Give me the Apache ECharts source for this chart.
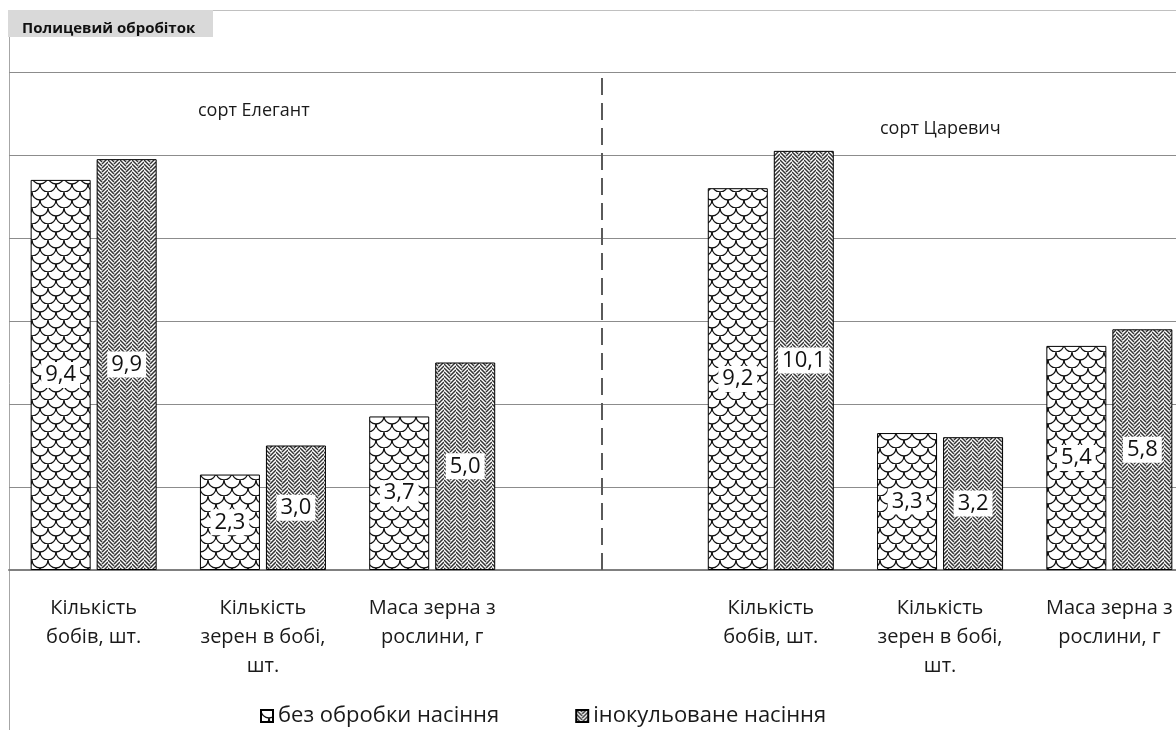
<!DOCTYPE html>
<html><head><meta charset="utf-8">
<script src="https://cdn.jsdelivr.net/npm/echarts@6/dist/echarts.min.js"></script>
<style>html,body{margin:0;padding:0;background:#fff}#c{width:1176px;height:730px}</style>
</head><body><div id="c"></div>
<script>
const categories = ['Кількість\nбобів, шт.', 'Кількість\nзерен в бобі,\nшт.', 'Маса зерна з\nрослини, г', '', 'Кількість\nбобів, шт.', 'Кількість\nзерен в бобі,\nшт.', 'Маса зерна з\nрослини, г'];
const seriesNames = ['без обробки насіння', 'інокульоване насіння'];
const noTreatment = [9.4, 2.3, 3.7, null, 9.2, 3.3, 5.4];
const inoculated = [9.9, 3.0, 5.0, null, 10.1, 3.2, 5.8];
const separatorCategory = 3;
const yTicks = [0, 2, 4, 6, 8, 10, 12];
const groupLabels = ['сорт Елегант', 'сорт Царевич'];
const panelTitle = 'Полицевий обробіток';

function scalesPattern() {
  const c = document.createElement('canvas'); c.width = 16; c.height = 16;
  const g = c.getContext('2d');
  g.fillStyle = '#fff'; g.fillRect(0, 0, 16, 16);
  g.strokeStyle = '#111'; g.lineWidth = 1.3;
  g.beginPath(); g.arc(8, 0, 8, 0, Math.PI); g.stroke();
  g.beginPath(); g.arc(0, 8, 8, 0, Math.PI / 2); g.stroke();
  g.beginPath(); g.arc(16, 8, 8, Math.PI / 2, Math.PI); g.stroke();
  return c;
}
function herringPattern() {
  const c = document.createElement('canvas'); c.width = 12; c.height = 12;
  const g = c.getContext('2d');
  g.fillStyle = '#fff'; g.fillRect(0, 0, 12, 12);
  g.strokeStyle = '#333'; g.lineWidth = 1.5;
  for (let y = -12; y <= 24; y += 4) {
    g.beginPath(); g.moveTo(0, y); g.lineTo(6, y + 6); g.stroke();
    g.beginPath(); g.moveTo(6, y + 8); g.lineTo(12, y + 2); g.stroke();
  }
  return c;
}
const fmt = p => (p.value == null ? '' : p.value.toFixed(1).replace('.', ','));
const font = 'Open Sans, Noto Sans, sans-serif';
const labelCfg = {
  show: true, position: 'inside', formatter: fmt, color: '#111',
  fontFamily: font, fontSize: 22, backgroundColor: '#fff', padding: [2, 4]
};

const chart = echarts.init(document.getElementById('c'));
chart.setOption({
  animation: false,
  grid: { left: 9, top: 72, width: 1185, height: 498, outerBoundsMode: 'none', containLabel: false },
  xAxis: {
    type: 'category', data: categories,
    axisLine: { lineStyle: { color: '#808080', width: 2 } },
    axisTick: { show: false },
    axisLabel: { interval: 0, margin: 24, color: '#1a1a1a', fontFamily: font, fontSize: 20, lineHeight: 29 }
  },
  yAxis: {
    type: 'value', min: 0, max: 12, interval: 2,
    axisLabel: { show: false }, axisLine: { show: false }, axisTick: { show: false },
    splitLine: { lineStyle: { color: '#8c8c8c', width: 1 } }
  },
  legend: {
    top: 700, left: 255, itemWidth: 12, itemHeight: 12, itemGap: 76, icon: 'rect',
    textStyle: { fontFamily: font, fontSize: 22, color: '#1a1a1a' },
    data: seriesNames
  },
  series: [
    {
      name: seriesNames[0], type: 'bar', data: noTreatment, barWidth: 60, barGap: '10%',
      itemStyle: { color: { image: scalesPattern(), repeat: 'repeat' }, borderColor: '#000', borderWidth: 1 },
      label: labelCfg
    },
    {
      name: seriesNames[1], type: 'bar', data: inoculated, barWidth: 60,
      itemStyle: { color: { image: herringPattern(), repeat: 'repeat' }, borderColor: '#000', borderWidth: 1 },
      label: labelCfg
    },
    {
      name: 'separator', type: 'line', data: [], silent: true,
      markLine: {
        silent: true, symbol: 'none', label: { show: false },
        lineStyle: { color: '#5a5a5a', width: 2, type: [17, 8] },
        data: [{ xAxis: separatorCategory }]
      }
    }
  ],
  graphic: [
    { type: 'line', shape: { x1: 213, y1: 10.5, x2: 1176, y2: 10.5 }, style: { stroke: '#c0c0c0', lineWidth: 1 } },
    { type: 'line', shape: { x1: 9.5, y1: 37, x2: 9.5, y2: 730 }, style: { stroke: '#a6a6a6', lineWidth: 1 } },
    { type: 'rect', shape: { x: 8, y: 10, width: 205, height: 27 }, style: { fill: '#d9d9d9' } },
    { type: 'text', left: 22, top: 21, style: { text: panelTitle, font: 'bold 15px ' + font, fill: '#111' } },
    { type: 'text', left: 198, top: 102, style: { text: groupLabels[0], font: '18px ' + font, fill: '#1a1a1a' } },
    { type: 'text', left: 880, top: 120, style: { text: groupLabels[1], font: '18px ' + font, fill: '#1a1a1a' } }
  ]
});
</script></body></html>
